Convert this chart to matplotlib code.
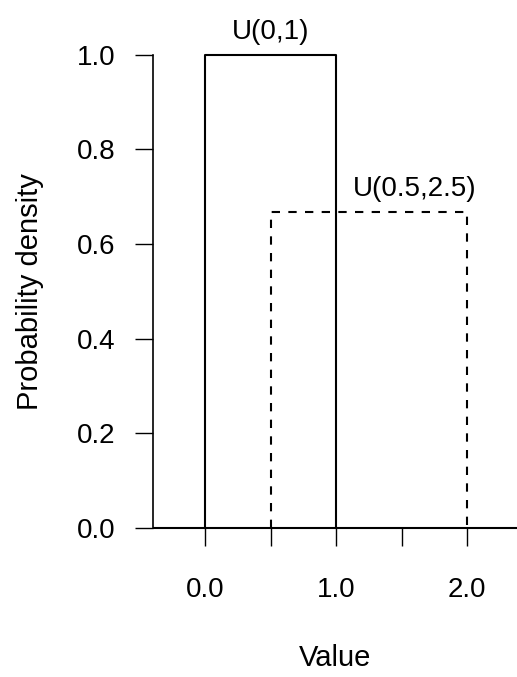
import matplotlib.pyplot as plt

plt.rcParams['font.family'] = ['Liberation Sans', 'DejaVu Sans']

# solid: U(0,1)
x1 = [0.0, 0.0, 1.0, 1.0]
y1 = [0.0, 1.0, 1.0, 0.0]
# dashed: U(0.5,2.5) as drawn
x2 = [0.5, 0.5, 2.0, 2.0]
y2 = [0.0, 0.667, 0.667, 0.0]
base_x = [-0.4, 2.4]
xticks = [0.0, 0.5, 1.0, 1.5, 2.0]
xlabels = ['0.0', '', '1.0', '', '2.0']
yticks = [0.0, 0.2, 0.4, 0.6, 0.8, 1.0]

fig = plt.figure(figsize=(5.17, 6.77), dpi=100)
ax = fig.add_axes([0.296, 0.192, 0.704, 0.755])
ax.plot(x2, y2, color='black', lw=1.5, ls=(0, (4, 4)))
ax.plot(x1, y1, color='black', lw=1.5)
ax.plot(base_x, [0, 0], color='black', lw=1.5)
ax.text(0.5, 1.02, 'U(0,1)', ha='center', va='bottom', fontsize=20)
ax.text(1.6, 0.69, 'U(0.5,2.5)', ha='center', va='bottom', fontsize=20)

ax.set_xlim(-0.4, 2.38)
ax.set_ylim(-0.04, 1.04)
for s in ['top', 'right']:
    ax.spines[s].set_visible(False)
ax.spines['left'].set_bounds(0, 1)
ax.spines['left'].set_linewidth(1.2)
ax.spines['bottom'].set_position(('data', 0))
ax.spines['bottom'].set_visible(False)
ax.set_yticks(yticks)
ax.set_yticklabels([f'{v:.1f}' for v in yticks])
ax.set_xticks(xticks)
ax.set_xticklabels(xlabels)
ax.tick_params(axis='both', length=13, width=1, labelsize=20, pad=14)
ax.tick_params(axis='x', pad=22)
ax.set_xlabel('Value', fontsize=21, labelpad=30)
ax.set_ylabel('Probability density', fontsize=21, labelpad=24)
fig.savefig('out.png', dpi=100)
